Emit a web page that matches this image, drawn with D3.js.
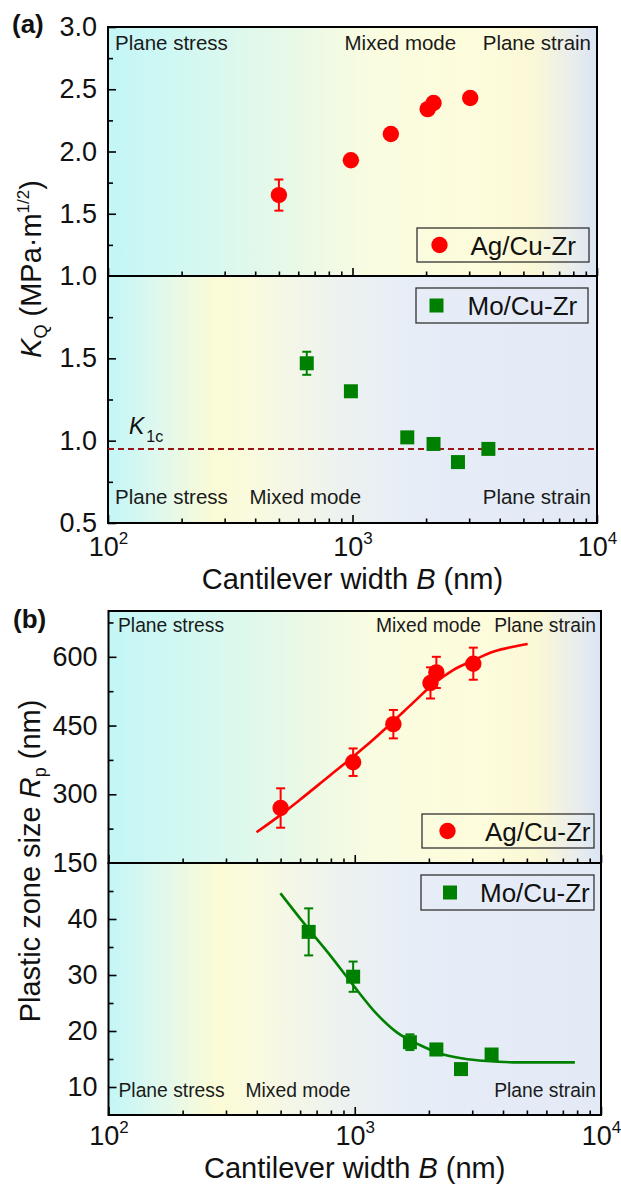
<!DOCTYPE html>
<html>
<head>
<meta charset="utf-8">
<script src="https://cdn.jsdelivr.net/npm/d3@7"></script>
<style>
  body { margin: 0; background: #fff; }
  svg { display: block; font-family: "Liberation Sans", Arial, Helvetica, sans-serif; }
</style>
</head>
<body>
<svg id="fig" width="621" height="1185"></svg>
<script>
// ---- Data ----------------------------------------------------------------
// Cantilever widths B (nm)
const widthAg = [500, 985, 1435, 2030, 2145, 3030];
const widthMo = [650, 985, 1675, 2145, 2700, 3595];

// (a) fracture toughness K_Q (MPa·m^1/2)
const kqAg    = [1.65, 1.93, 2.14, 2.34, 2.39, 2.43];
const kqAgErr = [0.125, 0, 0, 0, 0, 0];
const kqMo    = [1.47, 1.30, 1.02, 0.98, 0.87, 0.95];
const kqMoErr = [0.07, 0.025, 0.02, 0.02, 0.02, 0.02];
const k1c = 0.95;

// (b) plastic zone size R_p (nm)
const rpAg    = [270, 370, 453, 543, 566, 585];
const rpAgErr = [43, 30, 31, 34, 34, 35];
const rpMo    = [37.7, 29.7, 18.0, 16.7, 13.2, 15.8];
const rpMoErr = [4.2, 2.7, 1.4, 1.0, 0.5, 0.5];

// fitted trend lines
const fitAgWidth = [399, 497, 599, 768, 984, 1187, 1433, 1727, 2081, 2508, 3025, 3647, 4396, 5037];
const fitAgRp    = [217, 254, 288, 335, 382, 419, 459, 500, 540, 571, 592, 611, 622, 628];
const fitMoWidth = [499, 647, 792, 985, 1225, 1478, 1837, 2215, 2754, 3425, 4677, 7832];
const fitMoRp    = [44.6, 38.3, 33.6, 28.2, 23.1, 19.8, 17.5, 16.0, 15.1, 14.65, 14.4, 14.4];

// axis ticks
const xMajor = [100, 1000, 10000];
const xMinor = [200, 300, 400, 500, 600, 700, 800, 900, 2000, 3000, 4000, 5000, 6000, 7000, 8000, 9000];
const xExponents = ["2", "3", "4"];
const kqTopMajor = [1.0, 1.5, 2.0, 2.5, 3.0];
const kqTopMinor = [1.25, 1.75, 2.25, 2.75];
const kqBotMajor = [0.5, 1.0, 1.5];
const kqBotMinor = [0.75, 1.25, 1.75];
const rpTopMajor = [150, 300, 450, 600];
const rpTopMinor = [225, 375, 525, 675];
const rpBotMajor = [10, 20, 30, 40];
const rpBotMinor = [15, 25, 35, 45];

// ---- Setup ---------------------------------------------------------------
const RED = "#ff0000";
const GREEN = "#008000";
const svg = d3.select("#fig");
svg.append("rect").attr("width", 621).attr("height", 1185).attr("fill", "#fff");

const defs = svg.append("defs");
function gradient(id, stops) {
  const g = defs.append("linearGradient").attr("id", id)
    .attr("x1", 0).attr("x2", 1).attr("y1", 0).attr("y2", 0);
  stops.forEach(([o, c]) => g.append("stop").attr("offset", o).attr("stop-color", c));
}
gradient("bgUpper", [[0, "#c3f6f7"], [0.2, "#d6f8f0"], [0.4, "#ebf9e6"], [0.55, "#fafce0"],
                     [0.75, "#fdfcdc"], [0.87, "#fbf8d6"], [0.95, "#e9edec"], [1, "#dae4f4"]]);
gradient("bgLower", [[0, "#c3f6f7"], [0.1, "#dff8ee"], [0.22, "#fbfbd6"], [0.3, "#f9fadf"],
                     [0.45, "#eef3ee"], [0.62, "#e6edf7"], [1, "#e3eaf6"]]);

const boxA = { left: 108, right: 597, top: 27, mid: 276, bottom: 523, tickY: 33, titleY: 66, region: 20.5 };
const boxB = { left: 108.5, right: 601, top: 611, mid: 863, bottom: 1115, tickY: 30, titleY: 63, region: 19.3 };

const xA = d3.scaleLog().domain([100, 10000]).range([boxA.left, boxA.right]);
const xB = d3.scaleLog().domain([100, 10000]).range([boxB.left, boxB.right]);

const yA1 = d3.scaleLinear().domain([1.0, 3.0]).range([boxA.mid, boxA.top]);
const yA2 = d3.scaleLinear().domain([0.5, 2.0]).range([boxA.bottom, boxA.mid]);
const yB1 = d3.scaleLinear().domain([150, 700]).range([boxB.mid, boxB.top]);
const yB2 = d3.scaleLinear().domain([5, 50]).range([boxB.bottom, boxB.mid]);

function styleAxis(sel) {
  sel.select(".domain").remove();
  sel.selectAll(".tick line").attr("stroke", "#000").attr("stroke-width", 1.6);
  sel.selectAll("text").attr("fill", "#111").attr("font-size", 27)
    .attr("font-family", "\"Liberation Sans\", Arial, sans-serif");
}

function panel(x, y, box, gradId, yMajor, yMinor, yFmt, showXLabels) {
  const [yb, yt] = y.range();
  const g = svg.append("g");
  g.append("rect").attr("x", box.left).attr("y", yt)
    .attr("width", box.right - box.left).attr("height", yb - yt)
    .attr("fill", `url(#${gradId})`);

  // y axis, ticks pointing inward
  g.append("g").attr("transform", `translate(${box.left},0)`)
    .call(d3.axisLeft(y).tickValues(yMajor).tickSize(-8).tickPadding(11).tickFormat(yFmt))
    .call(styleAxis);
  g.append("g").attr("transform", `translate(${box.left},0)`)
    .call(d3.axisLeft(y).tickValues(yMinor).tickSize(-5).tickFormat(""))
    .call(styleAxis);

  // x axis at the panel bottom, ticks pointing inward
  const xa = g.append("g").attr("transform", `translate(0,${yb})`)
    .call(d3.axisBottom(x).tickValues(xMajor).tickSize(-8).tickFormat(""))
    .call(styleAxis);
  g.append("g").attr("transform", `translate(0,${yb})`)
    .call(d3.axisBottom(x).tickValues(xMinor).tickSize(-4.5).tickFormat(""))
    .call(styleAxis);
  if (showXLabels) {
    xa.selectAll(".tick").each(function (d, i) {
      const t = d3.select(this).append("text")
        .attr("y", box.tickY).attr("text-anchor", "middle")
        .attr("font-size", 27).attr("fill", "#111");
      t.append("tspan").text("10");
      t.append("tspan").attr("font-size", 17).attr("dy", -12).text(xExponents[i]);
    });
  }
  g.append("rect").attr("x", box.left).attr("y", yt)
    .attr("width", box.right - box.left).attr("height", yb - yt)
    .attr("fill", "none").attr("stroke", "#000").attr("stroke-width", 2);
  return g;
}

const fmt1 = d3.format(".1f");
const gA1 = panel(xA, yA1, boxA, "bgUpper", kqTopMajor, kqTopMinor, fmt1, false);
const gA2 = panel(xA, yA2, boxA, "bgLower", kqBotMajor, kqBotMinor, fmt1, true);
const gB1 = panel(xB, yB1, boxB, "bgUpper", rpTopMajor, rpTopMinor, d3.format("d"), false);
const gB2 = panel(xB, yB2, boxB, "bgLower", rpBotMajor, rpBotMinor, d3.format("d"), true);

// ---- Region labels -------------------------------------------------------
function regionText(g, items, yPos, size) {
  items.forEach(([txt, xPos, anchor]) => {
    g.append("text").attr("x", xPos).attr("y", yPos).attr("text-anchor", anchor)
      .attr("font-size", size).attr("fill", "#1a1a1a").text(txt);
  });
}
regionText(gA1, [["Plane stress", boxA.left + 7, "start"], ["Mixed mode", 344.5, "start"],
                 ["Plane strain", boxA.right - 6, "end"]], boxA.top + 23, boxA.region);
regionText(gA2, [["Plane stress", boxA.left + 7, "start"], ["Mixed mode", 249.5, "start"],
                 ["Plane strain", boxA.right - 6, "end"]], boxA.bottom - 19, boxA.region);
regionText(gB1, [["Plane stress", boxB.left + 9.5, "start"], ["Mixed mode", 376, "start"],
                 ["Plane strain", boxB.right - 5, "end"]], boxB.top + 21, boxB.region);
regionText(gB2, [["Plane stress", boxB.left + 10, "start"], ["Mixed mode", 245.5, "start"],
                 ["Plane strain", boxB.right - 5, "end"]], boxB.bottom - 18, boxB.region);

// ---- Reference line K_1c ------------------------------------------------
gA2.append("line").attr("x1", boxA.left).attr("x2", boxA.right)
  .attr("y1", yA2(k1c)).attr("y2", yA2(k1c))
  .attr("stroke", "#9a1616").attr("stroke-width", 2).attr("stroke-dasharray", "6,4");
const k1cLabel = gA2.append("text").attr("x", 129).attr("y", yA2(k1c) - 14.5)
  .attr("font-size", 23).attr("fill", "#111");
k1cLabel.append("tspan").attr("font-style", "italic").text("K");
k1cLabel.append("tspan").attr("font-size", 16).attr("dx", 2).attr("dy", 8).text("1c");

// ---- Fit curves ----------------------------------------------------------
function fitLine(g, x, y, xs, ys, color) {
  const line = d3.line().x(d => x(d[0])).y(d => y(d[1])).curve(d3.curveMonotoneX);
  g.append("path").datum(d3.zip(xs, ys)).attr("d", line)
    .attr("fill", "none").attr("stroke", color).attr("stroke-width", 2.6);
}
fitLine(gB1, xB, yB1, fitAgWidth, fitAgRp, RED);
fitLine(gB2, xB, yB2, fitMoWidth, fitMoRp, GREEN);

// ---- Points with error bars ---------------------------------------------
function points(g, x, y, xs, ys, errs, color, shape) {
  const data = d3.zip(xs, ys, errs);
  const eb = g.append("g").attr("stroke", color).attr("stroke-width", 2);
  data.filter(d => d[2] > 0).forEach(([b, v, e]) => {
    const cx = x(b);
    eb.append("line").attr("x1", cx).attr("x2", cx).attr("y1", y(v - e)).attr("y2", y(v + e));
    [v - e, v + e].forEach(w => eb.append("line")
      .attr("x1", cx - 4.5).attr("x2", cx + 4.5).attr("y1", y(w)).attr("y2", y(w)));
  });
  const sym = d3.symbol().type(shape === "circle" ? d3.symbolCircle : d3.symbolSquare)
    .size(shape === "circle" ? Math.PI * 8.2 * 8.2 : 14 * 14);
  g.append("g").selectAll("path").data(data).join("path")
    .attr("transform", d => `translate(${x(d[0])},${y(d[1])})`)
    .attr("d", sym).attr("fill", color);
}
points(gA1, xA, yA1, widthAg, kqAg, kqAgErr, RED, "circle");
points(gA2, xA, yA2, widthMo, kqMo, kqMoErr, GREEN, "square");
points(gB1, xB, yB1, widthAg, rpAg, rpAgErr, RED, "circle");
points(gB2, xB, yB2, widthMo, rpMo, rpMoErr, GREEN, "square");

// ---- Legends -------------------------------------------------------------
function legend(g, x0, y0, w, h, label, color, shape, markX, textX) {
  g.append("rect").attr("x", x0).attr("y", y0).attr("width", w).attr("height", h)
    .attr("fill", "none").attr("stroke", "#333").attr("stroke-width", 1.3);
  const sym = d3.symbol().type(shape === "circle" ? d3.symbolCircle : d3.symbolSquare)
    .size(shape === "circle" ? Math.PI * 8.2 * 8.2 : 14 * 14);
  g.append("path").attr("transform", `translate(${markX},${y0 + h / 2})`)
    .attr("d", sym).attr("fill", color);
  g.append("text").attr("x", textX).attr("y", y0 + h / 2 + 9.5)
    .attr("font-size", 26).attr("fill", "#111").text(label);
}
legend(gA1, 417, 228, 172, 34, "Ag/Cu-Zr", RED, "circle", 439.5, 470.5);
legend(gA2, 416, 288, 172, 35, "Mo/Cu-Zr", GREEN, "square", 436.5, 467.5);
legend(gB1, 422, 814, 172, 34, "Ag/Cu-Zr", RED, "circle", 447.5, 485);
legend(gB2, 421, 875, 173, 35, "Mo/Cu-Zr", GREEN, "square", 450, 480);

// ---- Titles --------------------------------------------------------------
[[boxA, xA], [boxB, xB]].forEach(([box, x]) => {
  const cx = (x.range()[0] + x.range()[1]) / 2;
  const t = svg.append("text").attr("x", cx).attr("y", box.bottom + box.titleY)
    .attr("text-anchor", "middle").attr("font-size", 29).attr("fill", "#111");
  t.append("tspan").text("Cantilever width ");
  t.append("tspan").attr("font-style", "italic").text("B");
  t.append("tspan").text(" (nm)");
});

const ta = svg.append("text").attr("transform", `translate(41,${(boxA.top + boxA.bottom) / 2 - 6}) rotate(-90)`)
  .attr("text-anchor", "middle").attr("font-size", 29).attr("fill", "#111");
ta.append("tspan").attr("font-style", "italic").text("K");
ta.append("tspan").attr("font-size", 18).attr("dy", 6).text("Q");
ta.append("tspan").attr("dy", -6).text(" (MPa·m");
ta.append("tspan").attr("font-size", 17).attr("dy", -12).text("1/2");
ta.append("tspan").attr("dy", 12).text(")");

const tb = svg.append("text").attr("transform", `translate(40,${(boxB.top + boxB.bottom) / 2 - 2}) rotate(-90)`)
  .attr("text-anchor", "middle").attr("font-size", 29).attr("fill", "#111");
tb.append("tspan").text("Plastic zone size ");
tb.append("tspan").attr("font-style", "italic").text("R");
tb.append("tspan").attr("font-size", 18).attr("dy", 6).text("p");
tb.append("tspan").attr("dy", -6).text(" (nm)");

// panel tags
svg.append("text").attr("x", 12).attr("y", 33).attr("font-size", 26).attr("font-weight", "bold")
  .attr("fill", "#111").text("(a)");
svg.append("text").attr("x", 13).attr("y", 628).attr("font-size", 26).attr("font-weight", "bold")
  .attr("fill", "#111").text("(b)");
</script>
</body>
</html>
